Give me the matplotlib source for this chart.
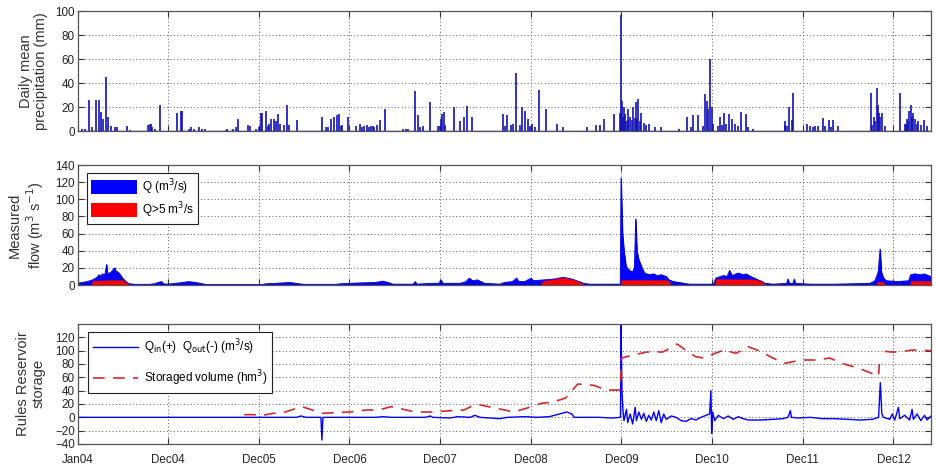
import matplotlib
matplotlib.use('Agg')
import matplotlib.pyplot as plt
import numpy as np
from matplotlib.patches import Patch
from matplotlib.lines import Line2D

plt.rcParams['font.family'] = ['Liberation Sans', 'DejaVu Sans']

# ---------------- data (x in days since 1 Jan 2004) ----------------
tick_days = [0, 365, 730, 1095, 1460, 1825, 2190, 2555, 2920, 3285]
tick_labels = ['Jan04', 'Dec04', 'Dec05', 'Dec06', 'Dec07', 'Dec08',
               'Dec09', 'Dec10', 'Dec11', 'Dec12']
x_end = 3436

# daily mean precipitation events (mm)
rain_days = [18, 45, 60, 76, 86, 95, 103, 113, 124, 133, 158, 201, 285, 290, 297,
             332, 399, 417, 422, 447, 488, 501, 515, 597, 624, 648, 685, 695,
             737, 744, 757, 770, 780, 790, 798, 808, 842, 853, 883,
             984, 1000, 1021, 1033, 1044, 1054, 1066, 1087, 1123, 1136, 1155, 1172, 1188,
             1205, 1218, 1237, 1311, 1322, 1360, 1371, 1392, 1420, 1453, 1463, 1469,
             1476, 1515, 1540, 1556, 1567, 1589, 1711, 1728, 1744, 1767, 1790, 1801,
             1813, 1831, 1858, 1888, 1932, 1953, 2051, 2087, 2104, 2120, 2161, 2182,
             2186, 2193, 2197, 2201, 2208, 2218, 2226, 2232, 2238, 2247, 2252, 2257,
             2263, 2270, 2300, 2324, 2349, 2422, 2455, 2476, 2496, 2525, 2533, 2540,
             2545, 2553, 2560, 2586, 2602, 2612, 2623, 2635, 2672, 2692, 2721, 2847,
             2855, 2864, 2880, 2937, 2950, 2970, 2983, 3003, 3027, 3043, 3060, 3194,
             3205, 3212, 3218, 3223, 3228, 3240, 3310, 3330, 3338, 3345, 3349, 3357,
             3365, 3372, 3378, 3406,
             # small background showers
             30, 150, 210, 300, 310, 455, 470, 600, 640, 720, 730, 765, 815, 830,
             1010, 1060, 1145, 1165, 1180, 1195, 1330, 1380, 1460, 1480, 1720, 1755,
             1780, 1820, 1840, 2190, 2205, 2215, 2243, 2280, 2290, 2470, 2520, 2580,
             2595, 2645, 2660, 2700, 2850, 2875, 2960, 3010, 3035, 3200, 3232, 3250,
             3335, 3360, 3385, 3395, 3420]
rain_mm = [2, 26, 3, 26, 26, 16, 10, 45, 12, 4, 3, 4, 5, 6, 6,
           22, 15, 17, 17, 2, 3, 2, 2, 1, 2, 10, 5, 4,
           15, 15, 17, 6, 10, 10, 8, 14, 22, 5, 9,
           12, 3, 10, 12, 13, 14, 5, 12, 4, 6, 4, 3, 4,
           5, 9, 18, 2, 2, 33, 13, 4, 24, 4, 10, 14,
           16, 20, 8, 12, 21, 12, 14, 13, 5, 48, 20, 17,
           10, 6, 34, 18, 6, 3, 3, 5, 5, 10, 14, 15,
           97, 25, 12, 20, 8, 18, 12, 9, 20, 24, 10, 27,
           8, 15, 6, 3, 3, 2, 12, 13, 13, 31, 25, 18,
           60, 20, 6, 12, 15, 6, 14, 10, 16, 14, 2, 8,
           4, 20, 32, 6, 4, 4, 4, 11, 9, 9, 4, 32,
           12, 8, 36, 22, 15, 15, 32, 6, 10, 8, 17, 22,
           15, 10, 6, 9,
           2, 3, 1, 3, 2, 3, 2, 2, 3, 2, 3, 4, 6, 5,
           3, 4, 3, 5, 4, 3, 2, 3, 4, 5, 4, 6,
           5, 4, 3, 12, 14, 9, 11, 7, 5, 3, 4, 4,
           5, 6, 4, 3, 5, 9, 3, 4, 3, 5, 12, 4,
           5, 12, 8, 5, 4]

# measured flow Q (m3/s)
q_days = [0, 20, 38, 50, 60, 79, 86, 95, 99, 110, 117, 120, 127, 135, 140, 150, 155,
          158, 167, 181, 195, 208, 230, 290, 310, 324, 338, 345, 351, 379, 410, 447,
          475, 501, 520, 740, 760, 800, 855, 880, 910, 1040, 1060, 1100, 1139, 1200,
          1229, 1250, 1270, 1350, 1360, 1365, 1425, 1455, 1463, 1470, 1540, 1564,
          1577, 1590, 1610, 1638, 1700, 1719, 1750, 1768, 1775, 1800, 1826, 1835,
          1875, 1920, 1956, 1990, 2038, 2060, 2185, 2188, 2194, 2200, 2208, 2218,
          2234, 2242, 2247, 2252, 2259, 2275, 2283, 2300, 2320, 2332, 2350, 2370,
          2381, 2400, 2422, 2463, 2560, 2569, 2600, 2615, 2625, 2635, 2659, 2680,
          2692, 2710, 2740, 2766, 2800, 2855, 2860, 2865, 2880, 2885, 2890, 2950,
          3052, 3190, 3210, 3223, 3231, 3236, 3245, 3256, 3300, 3346, 3354, 3370,
          3395, 3410, 3425, 3436]
q_vals = [2, 3, 4, 5, 6, 9, 12, 10, 13, 12, 24, 13, 14, 15, 17, 20, 15,
          16, 14, 8, 4, 1.5, 0.8, 0.8, 1.5, 3, 4, 2, 1, 1.5, 2.5, 4,
          3, 1.5, 0.5, 0.5, 1.5, 2, 3, 2, 0.8, 0.8, 1.5, 2, 2.5, 3,
          4.5, 3, 1, 1, 4, 1, 2, 2, 6, 2, 2, 4,
          8, 5, 6, 2, 1, 3, 4, 8, 4, 4, 8, 5,
          6, 7, 9, 7, 2, 1, 1, 125, 60, 40, 22, 18,
          15, 20, 77, 40, 30, 18, 14, 12, 13, 11, 12, 10,
          6, 4, 3, 1, 1, 8, 11, 10, 17, 11, 14, 12,
          13, 10, 6, 2, 1, 2, 7, 2, 2, 7, 2, 1,
          1, 2, 5, 15, 42, 15, 8, 5, 4, 5, 12, 13,
          12, 13, 11, 10]

# part of the flow above the 5 m3/s threshold (red)
r_days = [0, 55, 60, 120, 180, 200, 208, 1860, 1875, 1920, 1956, 1990, 2030, 2040,
          2186, 2188, 2300, 2370, 2381, 2390, 2565, 2569, 2700, 2750, 2766, 2770,
          3215, 3220, 3245, 3250, 3350, 3354, 3436]
r_vals = [0, 0, 5, 6, 6, 3, 0, 0, 5, 7, 9, 7, 3, 0,
          0, 6, 6, 6, 5, 0, 0, 7, 7, 6, 3, 0,
          0, 4, 4, 0, 0, 5, 5]

# reservoir inflow - outflow (m3/s)
qio_days = [0, 880, 900, 920, 980, 984, 988, 1200, 1230, 1260, 1400, 1420, 1430, 1500,
            1530, 1580, 1600, 1620, 1700, 1730, 1800, 1850, 1900, 1950, 1970, 1990,
            2000, 2100, 2150, 2186, 2188, 2192, 2196, 2200, 2210, 2215, 2225, 2235,
            2245, 2250, 2260, 2270, 2280, 2290, 2300, 2310, 2320, 2330, 2340, 2350,
            2360, 2370, 2390, 2410, 2430, 2450, 2470, 2490, 2510, 2530, 2545, 2550,
            2553, 2557, 2565, 2580, 2600, 2620, 2640, 2660, 2680, 2700, 2750, 2800,
            2840, 2860, 2870, 2874, 2900, 2950, 3000, 3050, 3100, 3150, 3200, 3225,
            3232, 3238, 3245, 3270, 3280, 3290, 3305, 3310, 3330, 3350, 3360, 3365,
            3380, 3395, 3410, 3420, 3436]
qio_vals = [0, 0, 2, 0, 0, -34, 0, 0, 1, 0, 0, 2, 0, -1,
            1, 0, 3, 0, -2, 0, 1, 0, 1, 6, 8, 5,
            0, 0, -1, 0, 140, 40, 10, -5, 12, -8, 5, -10,
            15, -5, 8, -3, 6, -6, 3, -4, 8, -5, 10, -8,
            5, -3, 2, 0, -5, -6, -2, -4, 0, 3, 5, 40,
            -24, 8, -5, 3, -2, 2, -3, 1, -2, -4, -4, -3,
            -2, 0, 10, 0, -1, 0, -2, -2, -3, -4, -3, 0,
            52, 5, 0, -3, 5, -4, 15, -2, 3, -4, 12, -3,
            5, -5, 3, -4, 2]

# storaged volume (hm3)
vol_days = [671, 706, 746, 787, 828, 869, 903, 937, 984, 1040, 1095, 1164, 1213,
            1262, 1311, 1360, 1425, 1507, 1556, 1605, 1654, 1720, 1753, 1802, 1867,
            1916, 1965, 2014, 2079, 2128, 2185, 2190, 2243, 2292, 2357, 2414, 2455,
            2488, 2520, 2553, 2602, 2651, 2700, 2750, 2799, 2848, 2913, 2978, 3028,
            3077, 3142, 3191, 3225, 3228, 3229, 3250, 3275, 3310, 3360, 3436]
vol_vals = [4, 4, 3, 6, 7, 12, 16, 12, 6, 7, 8, 11, 11,
            16, 12, 8, 8, 10, 11, 20, 16, 11, 8, 13, 21,
            23, 29, 50, 48, 41, 41, 89, 94, 98, 98, 110, 99,
            91, 89, 94, 101, 96, 106, 99, 89, 81, 86, 86, 89,
            81, 74, 67, 62, 80, np.nan, 99, 98, 98, 101, 100]

# ---------------- figure ----------------
W_PX, H_PX = 936, 470
fig = plt.figure(figsize=(W_PX / 100, H_PX / 100), dpi=100)
left = 77.5 / W_PX
width = (931 - 77.5) / W_PX
height = 120 / H_PX
ax1 = fig.add_axes([left, (H_PX - 131) / H_PX, width, height])
ax2 = fig.add_axes([left, (H_PX - 285) / H_PX, width, height])
ax3 = fig.add_axes([left, (H_PX - 444) / H_PX, width, height])

grid_kw = dict(color='#555555', linestyle=(0, (1, 2.5)), linewidth=0.7)
label_fs = 10.5
tick_fs = 8.4

def style(ax, ylim, yticks, show_x):
    ax.set_xlim(0, x_end)
    ax.set_ylim(*ylim)
    ax.set_yticks(yticks)
    ax.set_xticks(tick_days)
    if show_x:
        ax.set_xticklabels(tick_labels)
    else:
        ax.set_xticklabels([])
    ax.tick_params(direction='in', length=4, width=0.8, top=True, right=True,
                   labelsize=tick_fs, colors='#333333', labelcolor='#222222', pad=2)
    ax.tick_params(axis='x', pad=7)
    ax.grid(True, **grid_kw)
    ax.set_axisbelow(True)
    for s in ax.spines.values():
        s.set_color('#555555')
        s.set_linewidth(0.9)

# panel 1: precipitation
ax1.vlines(rain_days, 0, rain_mm, colors='#1212b8', linewidth=1.2)
ax1.axhline(0, color='#1414c0', linewidth=1.0)
style(ax1, (0, 100), np.arange(0, 101, 20), False)
ax1.set_ylabel('Daily mean\nprecipitation (mm)', fontsize=label_fs, color='#333333',
               linespacing=1.15)
ax1.yaxis.set_label_coords(-0.034, 0.5)

# panel 2: flow
ax2.fill_between(q_days, 0, q_vals, color='#0000ff', linewidth=0.6, edgecolor='#0000cc')
ax2.fill_between(r_days, 0, r_vals, color='#ff0000', linewidth=0)
ax2.plot(q_days, q_vals, color='#0000dd', linewidth=0.6)
style(ax2, (0, 140), np.arange(0, 141, 20), False)
ax2.set_ylabel('Measured\nflow (m$^3$ s$^{-1}$)', fontsize=label_fs, color='#333333',
               linespacing=1.15)
ax2.yaxis.set_label_coords(-0.037, 0.5)
h2 = [Patch(facecolor='#0000ff', edgecolor='none'),
      Patch(facecolor='#ff0000', edgecolor='none')]
leg2 = ax2.legend(h2, ['Q (m$^3$/s)', 'Q>5 m$^3$/s'], loc='upper left',
                  bbox_to_anchor=(0.011, 0.935), borderaxespad=0, fontsize=8.5,
                  handlelength=3.9, handleheight=1.5, labelspacing=0.3,
                  handletextpad=0.4, borderpad=0.35, fancybox=False, framealpha=1,
                  edgecolor='#222222')
leg2.get_frame().set_linewidth(0.8)

# panel 3: reservoir
ax3.plot(qio_days, qio_vals, color='#0000ff', linewidth=1.0)
ax3.plot(vol_days, vol_vals, color='#d42a2a', linewidth=1.2, dashes=(7, 5))
style(ax3, (-40, 140), np.arange(-40, 121, 20), True)
ax3.set_ylabel('Rules Reservoir\nstorage', fontsize=label_fs, color='#333333',
               linespacing=1.15)
ax3.yaxis.set_label_coords(-0.037, 0.5)
h3 = [Line2D([], [], color='#0000ff', linewidth=1.0),
      Line2D([], [], color='#d42a2a', linewidth=1.2, dashes=(7, 5))]
leg3 = ax3.legend(h3, [r'Q$_\mathrm{in}$(+)  Q$_\mathrm{out}$(-) (m$^3$/s)',
                       'Storaged volume (hm$^3$)'],
                  loc='upper left', bbox_to_anchor=(0.012, 0.935), borderaxespad=0,
                  fontsize=8.5, handlelength=3.8, labelspacing=1.0, handletextpad=0.5,
                  borderpad=0.45, fancybox=False, framealpha=1, edgecolor='#222222')
leg3.get_frame().set_linewidth(0.8)

fig.savefig('out.png', dpi=100, facecolor='white')
